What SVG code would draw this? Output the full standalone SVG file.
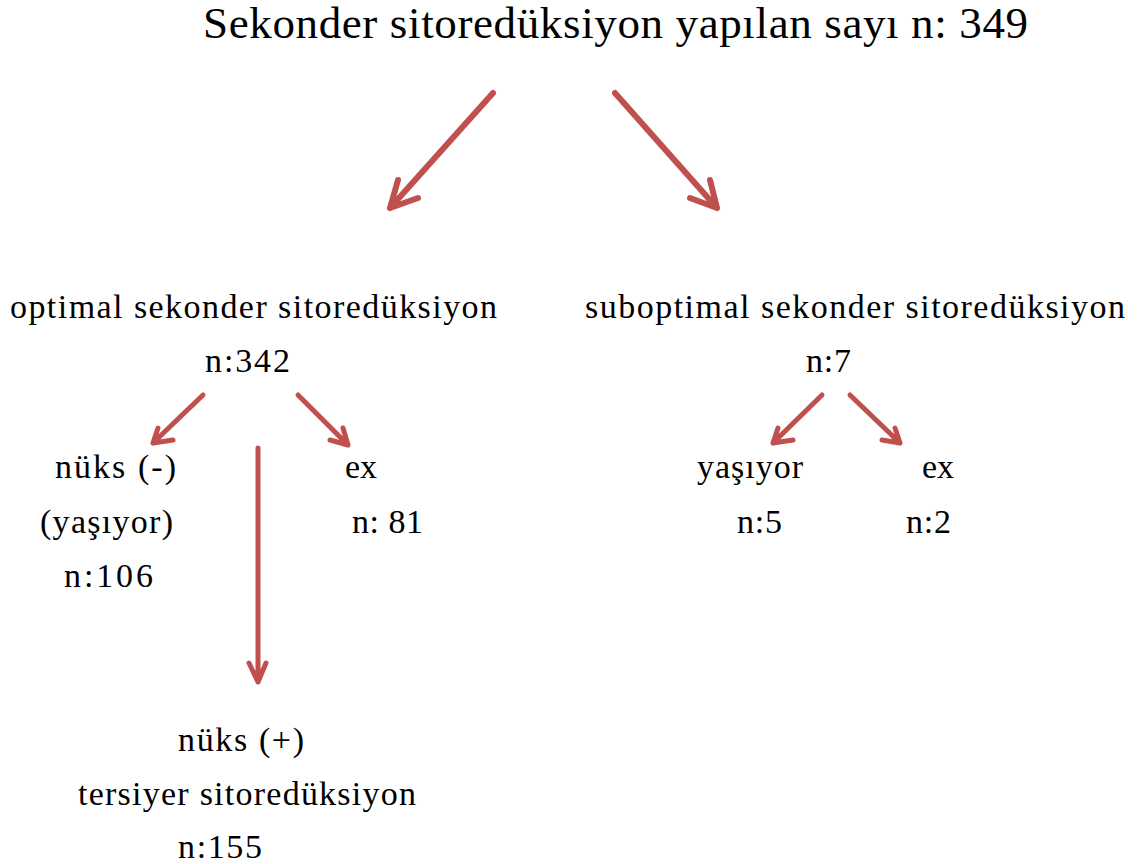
<svg xmlns="http://www.w3.org/2000/svg" width="1142" height="864" viewBox="0 0 1142 864">
<style>
text{font-family:"Liberation Serif","Times New Roman",serif;fill:#000;}
.t{font-size:45px;}
.s{font-size:34px;}
.a{fill:none;stroke:#C0504D;stroke-linecap:round;stroke-linejoin:round;}
.big{stroke-width:6;}
.sm{stroke-width:5;}
</style>
<rect width="1142" height="864" fill="#fff"/>
<g id="title"><text class="t" x="203" y="38" textLength="825" lengthAdjust="spacing">Sekonder sitoredüksiyon yapılan sayı n: 349</text></g>
<g id="optimal">
<text class="s" x="10" y="318" textLength="487" lengthAdjust="spacing">optimal sekonder sitoredüksiyon</text>
<text class="s" x="205" y="372" textLength="85" lengthAdjust="spacing">n:342</text>
</g>
<g id="suboptimal">
<text class="s" x="585" y="318" textLength="540" lengthAdjust="spacing">suboptimal sekonder sitoredüksiyon</text>
<text class="s" x="806" y="372" textLength="45" lengthAdjust="spacing">n:7</text>
</g>
<g id="nuks-neg">
<text class="s" x="55" y="478" textLength="121" lengthAdjust="spacing">nüks (-)</text>
<text class="s" x="40" y="533" textLength="133" lengthAdjust="spacing">(yaşıyor)</text>
<text class="s" x="64" y="587" textLength="89" lengthAdjust="spacing">n:106</text>
</g>
<g id="ex-opt">
<text class="s" x="345" y="478">ex</text>
<text class="s" x="352" y="533" textLength="71" lengthAdjust="spacing">n: 81</text>
</g>
<g id="yasiyor-sub">
<text class="s" x="697" y="478" textLength="106" lengthAdjust="spacing">yaşıyor</text>
<text class="s" x="737" y="533" textLength="45" lengthAdjust="spacing">n:5</text>
</g>
<g id="ex-sub">
<text class="s" x="922" y="478">ex</text>
<text class="s" x="906" y="533" textLength="45" lengthAdjust="spacing">n:2</text>
</g>
<g id="nuks-pos">
<text class="s" x="178" y="751" textLength="126" lengthAdjust="spacing">nüks (+)</text>
<text class="s" x="78" y="805" textLength="338" lengthAdjust="spacing">tersiyer sitoredüksiyon</text>
<text class="s" x="178" y="858" textLength="84" lengthAdjust="spacing">n:155</text>
</g>
<g id="connectors">
<path class="a big" d="M493,93 L390,208 M398,180 L390,208 L418,198"/>
<path class="a big" d="M615,93 L717,208 M710,180 L717,208 L690,198"/>
<path class="a sm" d="M203,395 L153,443 M158,428 L153,443 L173,440"/>
<path class="a sm" d="M298,395 L348,445 M343,428 L348,445 L330,440"/>
<path class="a sm" d="M822,395 L773,443 M778,428 L773,443 L793,440"/>
<path class="a sm" d="M850,395 L900,443 M895,428 L900,443 L882,440"/>
<path class="a sm" d="M258,448 L258,682 M249,663 L258,682 L266,663"/>
</g>
</svg>
